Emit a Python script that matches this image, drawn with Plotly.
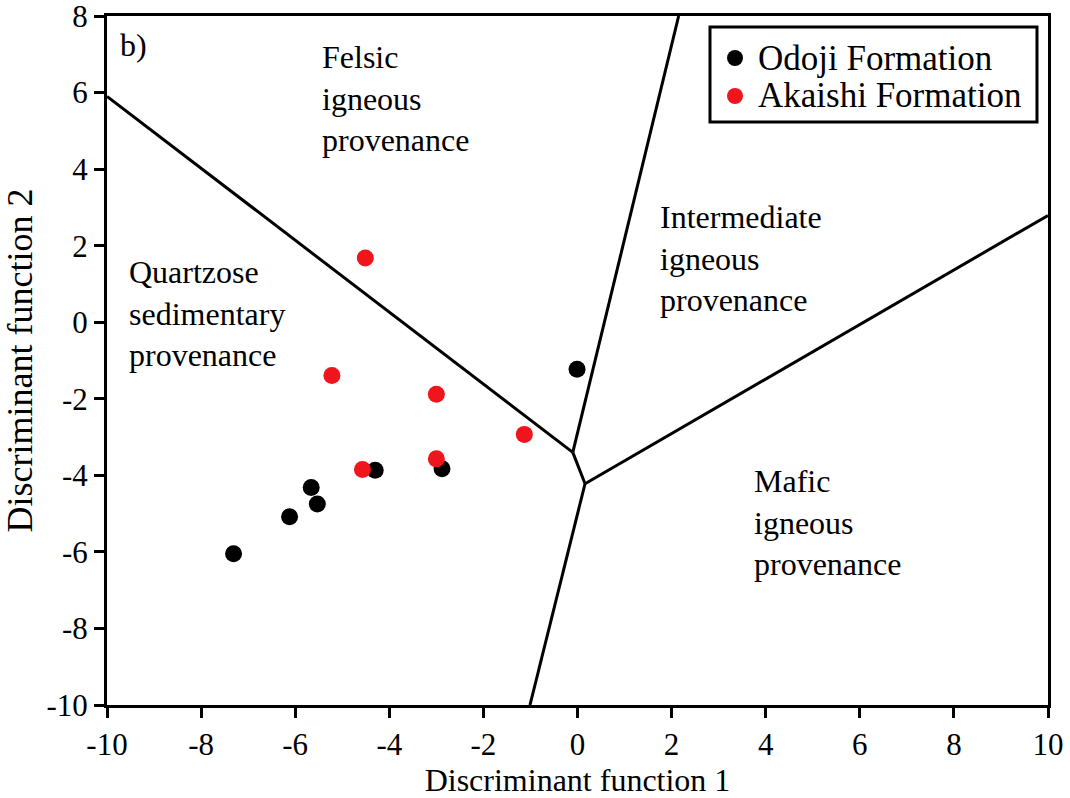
import plotly.graph_objects as go

# Discriminant function scores (DF1, DF2)
odoji_df1 = [-0.01, -4.30, -2.88, -5.66, -5.53, -6.12, -7.31]
odoji_df2 = [-1.23, -3.87, -3.83, -4.32, -4.75, -5.08, -6.05]

akaishi_df1 = [-4.51, -5.22, -3.00, -3.00, -4.57, -1.13]
akaishi_df2 = [1.68, -1.39, -1.88, -3.57, -3.85, -2.93]

# Provenance field boundaries (Roser & Korsch style diagram)
boundary_lines = [
    ([-10.0, -0.10], [5.90, -3.40]),   # quartzose / felsic
    ([-0.10, 2.15], [-3.40, 8.0]),     # felsic / intermediate
    ([-0.10, 0.16], [-3.40, -4.22]),   # short link between junctions
    ([0.16, 10.0], [-4.22, 2.79]),     # intermediate / mafic
    ([0.16, -1.01], [-4.22, -10.0]),   # quartzose / mafic
]

tick_vals_x = [-10, -8, -6, -4, -2, 0, 2, 4, 6, 8, 10]
tick_text_x = ["-10", "-8", "-6", "-4", "-2", "0", "2", "4", "6", "8", "10"]
tick_vals_y = [-10, -8, -6, -4, -2, 0, 2, 4, 6, 8]
tick_text_y = ["-10", "-8", "-6", "-4", "-2", "0", "2", "4", "6", "8"]

series_names = ["Odoji Formation", "Akaishi Formation"]
series_colors = ["black", "#f0141c"]

FONT = "Liberation Serif, Times New Roman, serif"

fig = go.Figure()

for xs, ys in boundary_lines:
    fig.add_trace(go.Scatter(
        x=xs, y=ys, mode="lines",
        line=dict(color="black", width=3),
        showlegend=False, hoverinfo="skip",
    ))

fig.add_trace(go.Scatter(
    x=odoji_df1, y=odoji_df2, mode="markers", name=series_names[0],
    marker=dict(color=series_colors[0], size=17, line=dict(width=0)), showlegend=False,
))
fig.add_trace(go.Scatter(
    x=akaishi_df1, y=akaishi_df2, mode="markers", name=series_names[1],
    marker=dict(color=series_colors[1], size=17, line=dict(width=0)), showlegend=False,
))

field_labels = [
    (-5.47, 5.84, "Felsic<br>igneous<br>provenance"),
    (1.72, 1.66, "Intermediate<br>igneous<br>provenance"),
    (-9.57, 0.22, "Quartzose<br>sedimentary<br>provenance"),
    (3.71, -5.22, "Mafic<br>igneous<br>provenance"),
    (-9.77, 7.25, "b)"),
]
for lx, ly, txt in field_labels:
    fig.add_annotation(
        x=lx, y=ly, xref="x", yref="y", text=txt, showarrow=False,
        xanchor="left", yanchor="middle", align="left",
        font=dict(family=FONT, size=32, color="black"),
    )

# Legend box drawn in paper coordinates
fig.add_shape(
    type="rect", xref="paper", yref="paper",
    x0=0.6408, x1=0.9883, y0=0.8462, y1=0.9840,
    line=dict(color="black", width=3), fillcolor="white", layer="above",
)
legend_rows_y = [0.9390, 0.8839]
for name, color, ry in zip(series_names, series_colors, legend_rows_y):
    fig.add_shape(
        type="circle", xref="paper", yref="paper",
        xsizemode="pixel", ysizemode="pixel",
        xanchor=0.6674, yanchor=ry, x0=-8, x1=8, y0=-8, y1=8,
        fillcolor=color, line=dict(color=color, width=0), layer="above",
    )
    fig.add_annotation(
        x=0.6900, y=ry, xref="paper", yref="paper", text=name,
        showarrow=False, xanchor="left", yanchor="middle",
        font=dict(family=FONT, size=35, color="black"),
    )

axis_common = dict(
    showgrid=False, zeroline=False, automargin=False,
    showline=True, linecolor="black", linewidth=3, mirror=True,
    ticks="outside", ticklen=10, tickwidth=3, tickcolor="black",
    ticklabeloverflow="allow",
    tickfont=dict(family=FONT, size=31, color="black"),
)

fig.update_xaxes(
    range=[-10.0001, 10.0001], tickvals=tick_vals_x, ticktext=tick_text_x,
    title=dict(text="Discriminant function 1", font=dict(family=FONT, size=32, color="black"), standoff=10),
    **axis_common,
)
fig.update_yaxes(
    range=[-10.0001, 8.0001], tickvals=tick_vals_y, ticktext=tick_text_y,
    title=dict(text="Discriminant function 2", font=dict(family=FONT, size=36, color="black"), standoff=4),
    **axis_common,
)

fig.update_layout(
    template="none",
    width=1070, height=798,
    margin=dict(l=107, r=22, t=16, b=93),
    plot_bgcolor="white", paper_bgcolor="white",
    font=dict(family=FONT, color="black"),
    showlegend=False,
)

fig.write_html("out.html")
